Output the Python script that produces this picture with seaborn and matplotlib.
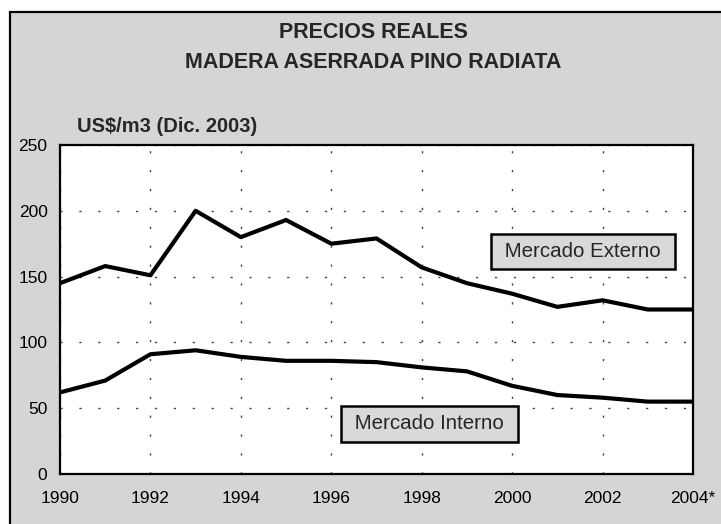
import matplotlib
matplotlib.use("Agg")
import matplotlib.pyplot as plt
import seaborn as sns
import pandas as pd
from matplotlib.patches import Rectangle

years = list(range(1990, 2005))
externo = [145, 158, 151, 200, 180, 193, 175, 179, 157, 145, 137, 127, 132, 125, 125]
interno = [62, 71, 91, 94, 89, 86, 86, 85, 81, 78, 67, 60, 58, 55, 55]
xtick_years = [1990, 1992, 1994, 1996, 1998, 2000, 2002, 2004]
xtick_labels = ["1990", "1992", "1994", "1996", "1998", "2000", "2002", "2004*"]
yticks = [0, 50, 100, 150, 200, 250]

df = pd.DataFrame({
    "Año": years * 2,
    "Precio": externo + interno,
    "Mercado": ["Mercado Externo"] * len(years) + ["Mercado Interno"] * len(years),
})

sns.set_style("white")
plt.rcParams["font.family"] = ["Liberation Sans", "DejaVu Sans"]

fig = plt.figure(figsize=(7.21, 5.24), dpi=100, facecolor="white")
bg = Rectangle((10 / 721, -0.01), 1.0, 1 - 12 / 524 + 0.01, transform=fig.transFigure,
               facecolor="#d5d5d5", edgecolor="black", linewidth=1.6, zorder=0)
fig.add_artist(bg)

ax = fig.add_axes([60 / 721, 1 - 474 / 524, (693 - 60) / 721, (474 - 145) / 524])
ax.set_facecolor("white")

sns.lineplot(data=df, x="Año", y="Precio", hue="Mercado",
             palette=["black", "black"], linewidth=3.0, legend=False, ax=ax)

ax.set_xlim(1990, 2004)
ax.set_ylim(0, 250)
ax.set_xticks(xtick_years)
ax.set_xticklabels(xtick_labels)
ax.set_yticks(yticks)
ax.set_xlabel("")
ax.set_ylabel("")

ax.grid(True, color="#444444", linestyle=(0, (1.6, 12)), linewidth=1.0)
ax.set_axisbelow(True)
for s in ax.spines.values():
    s.set_visible(True)
    s.set_color("black")
    s.set_linewidth(1.6)

ax.tick_params(axis="both", direction="out", length=6, width=1.2, color="black",
               labelsize=12.5, labelcolor="black")
ax.tick_params(axis="x", pad=6)
ax.tick_params(axis="y", pad=3)

fig.text(373 / 721, 1 - 32 / 524, "PRECIOS REALES", ha="center", va="center",
         fontsize=15.5, fontweight="bold")
fig.text(373 / 721, 1 - 63 / 524, "MADERA ASERRADA PINO RADIATA", ha="center", va="center",
         fontsize=15.5, fontweight="bold")
fig.text(77 / 721, 1 - 127 / 524, "US$/m3 (Dic. 2003)", ha="left", va="center",
         fontsize=14.5, fontweight="bold")

box = dict(boxstyle="square,pad=0.4", facecolor="#d9d9d9", edgecolor="black", linewidth=1.8)
ax.text(2001.56, 169, " Mercado Externo ", ha="center", va="center", fontsize=14.8,
        bbox=box, zorder=5)
ax.text(1998.17, 38, " Mercado Interno ", ha="center", va="center", fontsize=14.8,
        bbox=box, zorder=5)

fig.savefig("out.png", dpi=100, facecolor="white")
